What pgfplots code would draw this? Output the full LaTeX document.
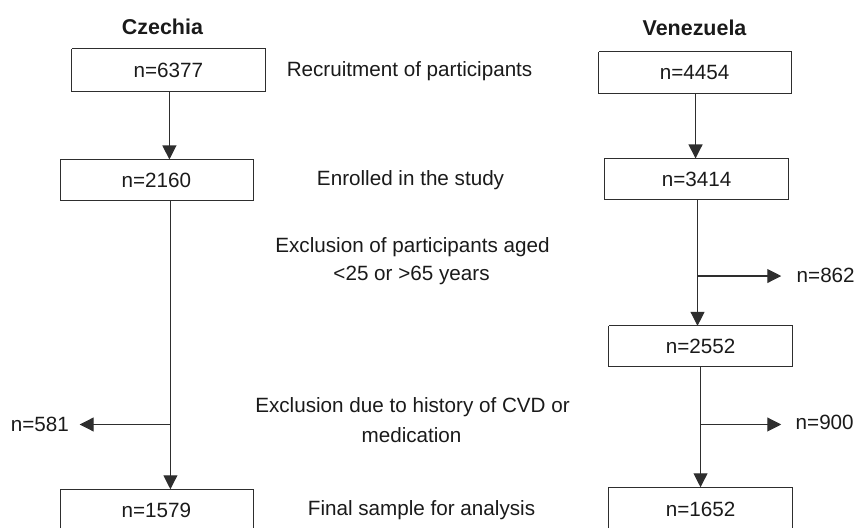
\documentclass[border=0pt]{standalone}
\usepackage{pgfplots}
\pgfplotsset{compat=1.18}
\usepackage{fontspec}
\setmainfont{Liberation Sans}
\usetikzlibrary{arrows.meta}
\definecolor{ln}{HTML}{2E2E2E}
\definecolor{tx}{HTML}{1A1A1A}
\begin{document}
\begin{tikzpicture}[font=\fontsize{20.8}{24}\selectfont, every node/.style={text=tx}]
\begin{axis}[
  width=858bp, height=530bp, scale only axis,
  xmin=0, xmax=858, ymin=0, ymax=530, y dir=reverse,
  hide axis, clip=false,
]
\addplot[draw=none] coordinates {(0,0) (858,530)};
% boxes
\pgfplotsset{boxst/.style={draw=ln, line width=1.1bp, no marks}}
\addplot[boxst] coordinates {(72,49) (266,49) (266,92) (72,92) (72,49)};
\addplot[boxst] coordinates {(61,160) (254,160) (254,201) (61,201) (61,160)};
\addplot[boxst] coordinates {(61,530) (61,491) (254,491) (254,530)};
\addplot[boxst] coordinates {(601,52) (794,52) (794,94) (601,94) (601,52)};
\addplot[boxst] coordinates {(607,159) (791,159) (791,200) (607,200) (607,159)};
\addplot[boxst] coordinates {(611,327) (795,327) (795,368) (611,368) (611,327)};
\addplot[boxst] coordinates {(611,530) (611,489) (795,489) (795,530)};
% arrows
\pgfplotsset{arr/.style={draw=ln, line width=1.1bp, no marks, -{Triangle[width=14bp,length=14bp]}}}
\addplot[arr] coordinates {(170,92) (170,160)};
\addplot[arr] coordinates {(171,201) (171,491)};
\addplot[arr] coordinates {(171,426) (80,426)};
\addplot[arr] coordinates {(698,94) (698,159)};
\addplot[arr] coordinates {(700,200) (700,327)};
\addplot[arr] coordinates {(700,277) (784,277)};
\addplot[arr] coordinates {(703,368) (703,489)};
\addplot[arr] coordinates {(703,426) (784,426)};
% titles
\node[font=\fontsize{21.6}{24}\selectfont\bfseries] at (axis cs:163,27) {Czechia};
\node[font=\fontsize{21.6}{24}\selectfont\bfseries] at (axis cs:697,28) {Venezuela};
% box texts
\node at (axis cs:169,71) {n=6377};
\node at (axis cs:157,181) {n=2160};
\node at (axis cs:157,512) {n=1579};
\node at (axis cs:697,73) {n=4454};
\node at (axis cs:699,180) {n=3414};
\node at (axis cs:703,348) {n=2552};
\node at (axis cs:703,511) {n=1652};
% side counts
\node at (axis cs:40,426) {n=581};
\node[anchor=west] at (axis cs:796,276) {n=862};
\node[anchor=west] at (axis cs:795,424) {n=900};
% middle texts
\node at (axis cs:411,71) {Recruitment of participants};
\node at (axis cs:412,181) {Enrolled in the study};
\node at (axis cs:414,248) {Exclusion of participants aged};
\node at (axis cs:413,276) {<25 or >65 years};
\node at (axis cs:414,409) {Exclusion due to history of CVD or};
\node at (axis cs:413,437) {medication};
\node at (axis cs:423,512) {Final sample for analysis};
\end{axis}
\end{tikzpicture}
\end{document}
